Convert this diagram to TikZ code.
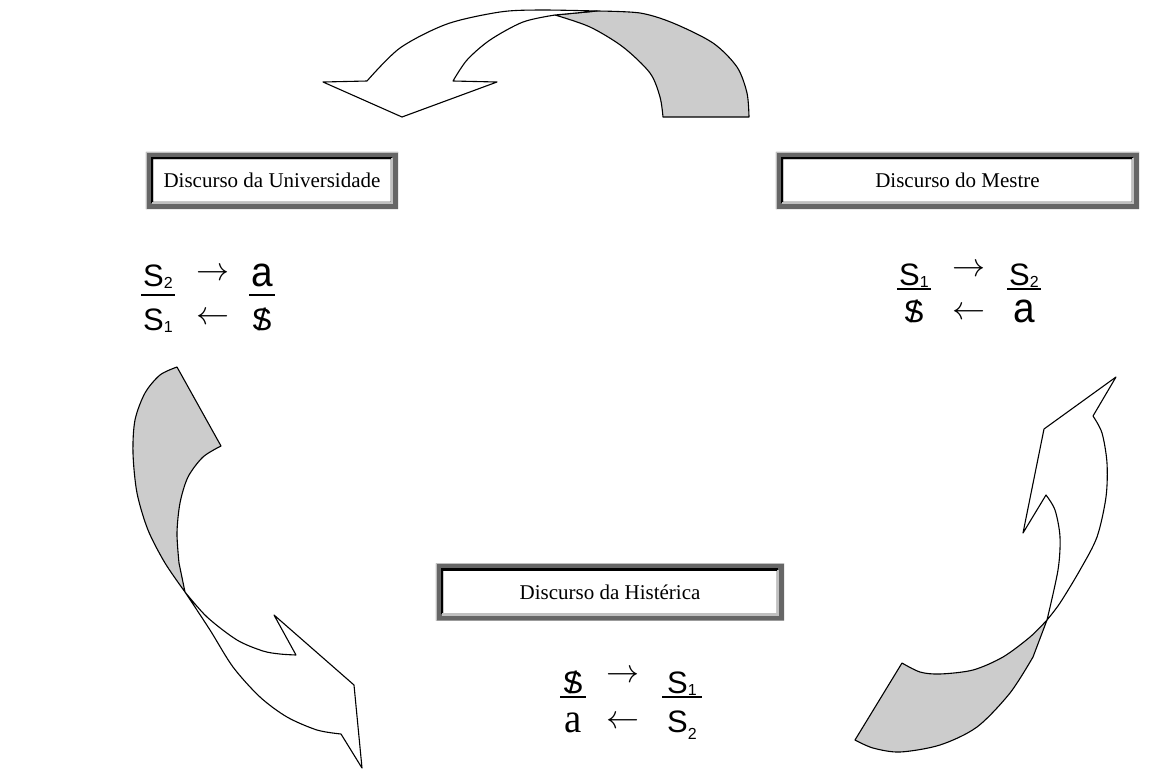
\documentclass[tikz,border=0pt]{standalone}
\usepackage{fix-cm}
\usepackage{fontspec}
\setmainfont{Liberation Serif}
\newfontfamily\arialfont{Liberation Sans}
\usepackage{graphicx}
\usetikzlibrary{calc}

\definecolor{framedark}{HTML}{666666}
\definecolor{framelight}{HTML}{C0C0C0}

% barred subject, small index, tall a
\newcommand{\bS}{\ooalign{S\cr\hidewidth/\hidewidth\cr}}
\newcommand{\low}[1]{\raisebox{-2pt}{\fontsize{16}{18}\selectfont #1}}
\newcommand{\ta}{\scalebox{1.25}[1.35]{a}}

\begin{document}
\begin{tikzpicture}[x=1pt,y=-1pt,>=latex]
		
		\tikzset{
			discbox/.style={minimum width=#1, minimum height=57pt, inner sep=0pt, font=\fontsize{21}{25}\selectfont},
			sym/.style={anchor=base, inner sep=0pt, font=\arialfont\fontsize{31}{36}\selectfont},
			arr/.style={inner sep=0pt, font=\fontsize{33}{36}\selectfont},
			fracbar/.style={line width=1.2pt},
			front/.style={draw=black, fill=white, line width=1.1pt, line join=round},
			back/.style={front, fill=gray!40}
		}
		
		\fill[white] (0,0) rectangle (1163,772);
		\useasboundingbox (0,0) rectangle (1163,772);
		
		% Sunken frame round a box node
		\newcommand{\discframe}[1]{% node name
			\fill[framedark,even odd rule] (#1.south west) rectangle (#1.north east)
			([shift={(7.5pt,7.5pt)}]#1.south west) rectangle ([shift={(-7.5pt,-7.5pt)}]#1.north east);
			\draw[framelight,line width=1pt] ([shift={(0.5pt,0pt)}]#1.south west) |- ([shift={(0pt,-0.5pt)}]#1.north east);
			\draw[black,line width=2.5pt] ([shift={(6.25pt,6.25pt)}]#1.south west) |- ([shift={(-6.25pt,-6.25pt)}]#1.north east);
			\draw[framelight,line width=2.5pt] ([shift={(6.25pt,6.25pt)}]#1.south west) -| ([shift={(-6.25pt,-6.25pt)}]#1.north east);
		}
		
		% The three discourses
		\node[discbox=252pt] (univ) at (272,180.5) {Discurso da Universidade};
		\node[discbox=363pt] (mestre) at (957.5,180.5) {Discurso do Mestre};
		\node[discbox=348pt] (hist) at (610,592) {Discurso da Histérica};
		\discframe{univ}
		\discframe{mestre}
		\discframe{hist}
		
		% Universidade
		\node[sym] (utl) at (158,286) {S\low{2}};
		\node[sym] (utr) at (262,286) {\ta};
		\node[sym] (ubl) at (158,330) {S\low{1}};
		\node[sym] (ubr) at (262,330) {\bS};
		\node[arr] (uto) at (213,274) {$\rightarrow$};
		\node[arr] (ufrom) at (213,318) {$\leftarrow$};
		\draw[fracbar] ([shift={(-2pt,-9pt)}]utl.base west) -- ([shift={(2pt,-9pt)}]utl.base east);
		\draw[fracbar] ([shift={(-2pt,-9pt)}]utr.base west) -- ([shift={(2pt,-9pt)}]utr.base east);
		
		% Mestre
		\node[sym] (mtl) at (914,285) {S\low{1}};
		\node[sym] (mtr) at (1024,285) {S\low{2}};
		\node[sym] (mbl) at (914,322) {\bS};
		\node[sym] (mbr) at (1024,322) {\ta};
		\node[arr] (mto) at (969,270) {$\rightarrow$};
		\node[arr] (mfrom) at (969,313) {$\leftarrow$};
		\draw[fracbar] ([shift={(-2pt,-4pt)}]mtl.base west) -- ([shift={(2pt,-4pt)}]mtl.base east);
		\draw[fracbar] ([shift={(-2pt,-4pt)}]mtr.base west) -- ([shift={(2pt,-4pt)}]mtr.base east);
		
		% Histérica
		\node[sym] (htl) at (573,693) {\bS};
		\node[sym] (htr) at (682,693) {S\low{1}};
		\node[sym,font=\fontsize{31}{36}\selectfont] (hbl) at (573,732) {\ta};
		\node[sym] (hbr) at (682,732) {S\raisebox{-7pt}{\fontsize{16}{18}\selectfont 2}};
		\node[arr] (hto) at (623,676) {$\rightarrow$};
		\node[arr] (hfrom) at (623,722) {$\leftarrow$};
		\draw[fracbar] ([shift={(-2pt,-4pt)}]htl.base west) -- ([shift={(2pt,-4pt)}]htl.base east);
		\draw[fracbar] ([shift={(-5pt,-4pt)}]htr.base west) -- ([shift={(5pt,-4pt)}]htr.base east);
		
		% Top curved arrow: Mestre -> Universidade
		\filldraw[back]
		plot [smooth] coordinates {(749,117) (747,93) (737,67) (713,43) (673,23) (640,13) (597,11)}
		-- plot [smooth] coordinates {(555,15) (590,27) (623,47) (650,73) (660,97) (663,117)}
		-- cycle;
		\filldraw[front]
		plot [smooth] coordinates {(597,11) (540,10) (500,12) (447,24) (400,48) (367,81)}
		-- (323,82) -- (402,117) -- (497,82)
		-- plot [smooth] coordinates {(453,81) (467,60) (490,40) (523,22) (555,15)}
		-- cycle;
		
		% Left curved arrow: Universidade -> Histérica
		\filldraw[back]
		plot [smooth] coordinates {(177,367) (160,375) (145,393) (135,420) (133,453) (137,493) (148,530) (165,563) (185,592)}
		-- plot [smooth] coordinates {(179,563) (177,533) (180,503) (188,477) (203,457) (221,446)}
		-- cycle;
		\filldraw[front]
		plot [smooth] coordinates {(185,592) (207,617) (237,640) (263,651) (280,654) (296,655)}
		-- (274,615) -- (354,685) -- (362,768)
		-- plot [smooth] coordinates {(341,734) (317,730) (287,717) (260,697) (233,667) (210,630) (185,592)}
		-- cycle;
		
		% Right curved arrow: Histérica -> Mestre
		\filldraw[back]
		plot [smooth] coordinates {(902,663) (920,672) (940,674) (973,670) (1003,657) (1030,637) (1047,620)}
		-- plot [smooth] coordinates {(1033,657) (1010,693) (977,727) (940,745) (900,752) (873,748) (855,740)}
		-- cycle;
		\filldraw[front]
		plot [smooth] coordinates {(1047,620) (1058,570) (1060,537) (1055,510) (1046,495)}
		-- (1023,533) -- (1044,429) -- (1116,377)
		-- plot [smooth] coordinates {(1093,416) (1102,433) (1107,463) (1106,497) (1097,537) (1080,570) (1060,603) (1047,620)}
		-- cycle;
		
	\end{tikzpicture}
\end{document}
